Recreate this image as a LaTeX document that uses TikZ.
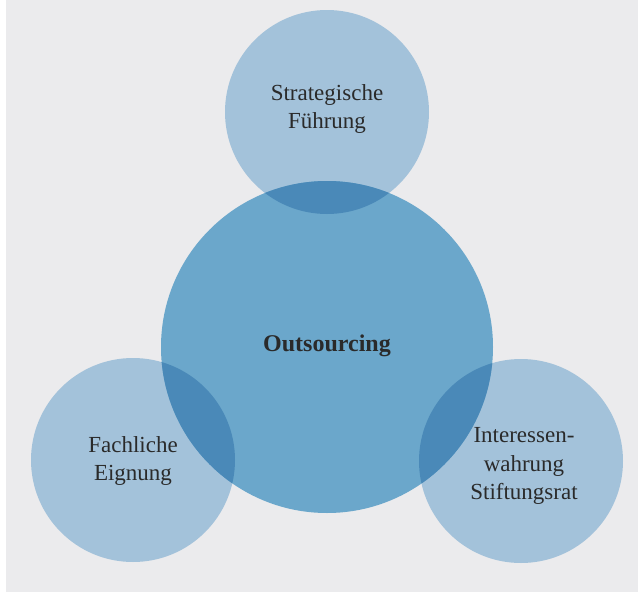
\documentclass[tikz,border=0pt]{standalone}
\usepackage{fontspec}
\setmainfont{Liberation Serif}
\definecolor{bgcol}{HTML}{EBEBED}
\definecolor{smallcol}{HTML}{A3C2DA}
\definecolor{bigcol}{HTML}{6BA7CB}
\definecolor{overlapcol}{HTML}{4A89B8}
\definecolor{txtcol}{HTML}{2A2A2A}
\begin{document}
\begin{tikzpicture}[x=1pt,y=-1pt,
  label/.style={text=txtcol,align=center,font=\fontsize{23}{28.5}\selectfont}]
\useasboundingbox (0,0) rectangle (638,592);
\fill[white] (0,0) rectangle (638,592);
\fill[bgcol] (6,0) rectangle (638,592);
% satellite circles
\fill[smallcol] (327,112) circle[radius=102];
\fill[smallcol] (133,460) circle[radius=102];
\fill[smallcol] (521,461) circle[radius=102];
% central circle
\fill[bigcol] (327,347) circle[radius=166];
% overlaps
\foreach \cx/\cy in {327/112,133/460,521/461}{
  \begin{scope}
    \clip (327,347) circle[radius=166];
    \fill[overlapcol] (\cx,\cy) circle[radius=102];
  \end{scope}
}
\node[label] (top) at (327,109) {Strategische\\Führung};
\node[label,font=\fontsize{24}{28}\selectfont\bfseries] (mid) at (327,346) {Outsourcing};
\node[label] (left) at (133,461) {Fachliche\\Eignung};
\node[label] (right) at (524,466) {Interessen-\\wahrung\\Stiftungsrat};
\end{tikzpicture}
\end{document}
